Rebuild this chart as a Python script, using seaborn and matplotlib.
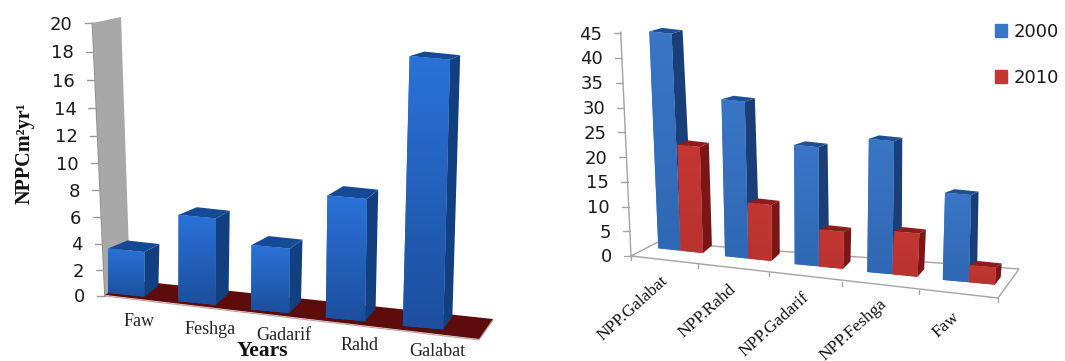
#!/usr/bin/env python3
import numpy as np
import pandas as pd
import matplotlib
matplotlib.use("Agg")
import matplotlib.pyplot as plt
import seaborn as sns
from matplotlib.colors import LinearSegmentedColormap, Normalize
from matplotlib.image import AxesImage
from matplotlib.lines import Line2D
from matplotlib.patches import Patch, Polygon
from matplotlib.path import Path
from matplotlib.transforms import Affine2D

left_sites = ["Faw", "Feshga", "Gadarif", "Rahd", "Galabat"]
left_npp = [3.4, 6.3, 4.5, 8.2, 17.4]
left_ticks = [0, 2, 4, 6, 8, 10, 12, 14, 16, 18, 20]

right_sites = ["NPP.Galabat", "NPP.Rahd", "NPP.Gadarif", "NPP.Feshga", "Faw"]
npp_2000 = [45, 31.7, 23.2, 24.7, 15.3]
npp_2010 = [22, 11.3, 7.2, 8, 3]
right_ticks = [0, 5, 10, 15, 20, 25, 30, 35, 40, 45]

W, H = 1065, 361
SERIF = "Liberation Serif"
SANS = "DejaVu Sans"
GRID = "#a3a3a3"

sns.set_theme(style="white")
fig = plt.figure(figsize=(W / 100, H / 100), dpi=100)
# everything is laid out in image pixels, y going down
pix = Affine2D().scale(1, -1).translate(0, H)


def line(xs, ys, color=GRID, lw=1.0):
    fig.add_artist(Line2D(xs, ys, color=color, lw=lw, transform=pix, zorder=-1))


def label(x, y, s, **kw):
    fig.text(x, y, s, transform=pix, **kw)


def face(ax, pts, color, z):
    ax.add_patch(Polygon(pts, closed=True, facecolor=color, edgecolor="none",
                         transform=pix, clip_on=False, zorder=z))


def shade(ax, pts, top, bottom, z):
    cmap = LinearSegmentedColormap.from_list("f", [top, bottom])
    pts = np.array(pts)
    ext = (pts[:, 0].min(), pts[:, 0].max(), pts[:, 1].max(), pts[:, 1].min())
    im = AxesImage(ax, cmap=cmap, norm=Normalize(0, 1), interpolation="bilinear",
                   origin="upper", extent=ext)
    im.set_data(np.linspace(0, 1, 64)[:, None])
    im.set_transform(pix)
    im.set_zorder(z)
    ax.add_image(im)
    im.set_clip_path(Path(np.vstack([pts, pts[:1]])), pix)


def box(ax, rect, bl, wvec, up, side_top, side_bot, back_left, col, z):
    # the bar seaborn drew is moved to its place in the perspective view
    x0, w, v = rect.get_x(), rect.get_width(), rect.get_height()
    a, b = wvec[0] / w, wvec[1] / w
    tr = Affine2D.from_values(a, b, up[0], up[1], bl[0] - a * x0, bl[1] - b * x0)
    rect.set_transform(tr + pix)
    rect.set_clip_on(False)
    rect.set_zorder(z + 0.2)

    bl = np.array(bl, float)
    br = bl + wvec
    tl = bl + np.array(up) * v
    tr_ = br + np.array(up) * v
    face(ax, [br, tr_, tr_ + side_top, br + side_bot], col["side"], z)
    face(ax, [tl, tr_, tr_ + side_top, tl + back_left], col["top"], z + 0.1)
    shade(ax, [tl, tr_, br, bl], col["front_top"], col["front_bot"], z + 0.3)


# left chart
left_blue = dict(front_top="#2a72d8", front_bot="#1c4f9e", side="#123f80", top="#164a96")
ax1 = fig.add_axes([0, 0, 0.5, 1])
ax1.set_axis_off()
sns.barplot(x=left_sites, y=left_npp, color="#2366c2", saturation=1, linewidth=0,
            errorbar=None, ax=ax1)

face(ax1, [(105, 295), (479, 339), (493, 319), (128, 280)], "#5e0b0b", 1)
line([105, 479, 493], [296, 340, 320], color="#b9a3a3", lw=0.8)
face(ax1, [(92.5, 23), (121, 17), (130, 282), (105, 296)], "#a8a8a8", 0.5)
line([92.5, 105], [23, 296], color="#8a8a8a", lw=1.2)

left_up_dx = [0, 0.02, 0.1, 0.2, 0.39]
left_top_dy = [-8, -7.7, -9, -9.3, -4.5]
for i, rect in enumerate(ax1.containers[0]):
    bl = (108 + 69.3 * i + 1.1 * i**2, 293 + 8.2 * i)
    wvec = np.array((36.4 + i, 3.6))
    scale = 13.1 + 0.6 * i
    dx = 15 - 1.2 * i
    box(ax1, rect, bl, wvec, (left_up_dx[i], -scale),
        (dx, left_top_dy[i]), (dx - 1, -11 - 0.5 * i), (dx + 4.5, left_top_dy[i]),
        left_blue, 2 + i)

for v in left_ticks:
    y = 296 - 12.9 * v - 0.0365 * v**2
    x = 105 - (296 - y) * 0.0458
    line([x - 8, x], [y, y], color="#999999")
    label(x - 20, y + 1.5, str(v), family=SANS, fontsize=13, color="#1a1a1a", ha="right", va="center")

left_label_pos = [(139, 321), (210, 330), (284, 335.5), (360, 346), (437, 352)]
for (x, y), s in zip(left_label_pos, left_sites):
    label(x, y, s, family=SERIF, fontsize=13, color="#222222", ha="center", va="center")
label(262, 355.5, "Years", family=SERIF, fontsize=15.5, weight="bold", color="#111111",
      ha="center", va="baseline")
label(25, 153, "NPPCm²yr¹", family=SERIF, fontsize=14.5, weight="bold", color="#111111",
      rotation=90, ha="center", va="center")

# right chart
right_cols = {
    "2000": dict(front_top="#3a76c6", front_bot="#2f68b4", side="#1a3f78", top="#1e4f92"),
    "2010": dict(front_top="#c43733", front_bot="#b93330", side="#7a1716", top="#8e1c1a"),
}
df = pd.DataFrame({
    "site": right_sites * 2,
    "npp": npp_2000 + npp_2010,
    "year": ["2000"] * len(npp_2000) + ["2010"] * len(npp_2010),
})
ax2 = fig.add_axes([0.5, 0, 0.5, 1])
ax2.set_axis_off()
sns.barplot(data=df, x="site", y="npp", hue="year", palette=["#3a76c6", "#c43733"],
            saturation=1, linewidth=0, errorbar=None, legend=False, ax=ax2)

line([631, 658, 1019, 998, 631], [256, 242, 269, 298, 256])
line([620.7, 631], [32, 256])
for v in right_ticks:
    y = 256 - 4.95 * v
    x = 631 - v * 0.229
    line([x - 7, x], [y, y])
    label(x - 19, y + 1.5, str(v), family=SANS, fontsize=13, color="#1a1a1a", ha="right", va="center")
for tx, ty in [(631, 256), (698, 264), (769, 272), (842, 282), (919, 290), (998, 298)]:
    line([tx, tx], [ty, ty + 4])

for i in range(len(right_sites)):
    base = np.array((658.3 + 65.3 * i + 1.45 * i**2, 248.3 + 7.9 * i))
    wvec = np.array((22.3 + 0.95 * i, 2.4))
    scale = 4.82 + 0.1 * i + 0.03 * i**2
    up_dx = -0.2 + 0.088 * i
    z = 2 + 2 * i
    dx = 11 - 0.9 * i
    box(ax2, ax2.containers[0][i], base, wvec, (up_dx, -scale),
        (dx, -3.5), (dx + 1, -16), (dx + 2, -3.5), right_cols["2000"], z)
    dx2 = 9 - 0.8 * i
    box(ax2, ax2.containers[1][i], base + wvec, wvec, (-0.14 + 0.12 * i, -scale),
        (dx2, -4.2), (dx2, -7.5), (dx2 + 2, -4.2), right_cols["2010"], z + 1)

right_label_ends = [(666, 279), (734, 287), (807, 295), (885, 302), (957, 315)]
for (x, y), s in zip(right_label_ends, right_sites):
    label(x, y, s, family=SERIF, fontsize=12.5, color="#111111", rotation=42,
          rotation_mode="anchor", ha="right", va="center")

handles = [Patch(color=right_cols[y]["front_top"], label=y) for y in right_cols]
ax2.legend(handles=handles, loc="upper left", bbox_to_anchor=(989.6, 17.5), bbox_transform=pix,
           frameon=False, prop={"family": SANS, "size": 13}, labelcolor="#1a1a1a",
           handlelength=0.67, handleheight=0.67, handletextpad=0.35, labelspacing=1.55,
           borderpad=0.3, borderaxespad=0)

fig.savefig("out.png", dpi=100)
